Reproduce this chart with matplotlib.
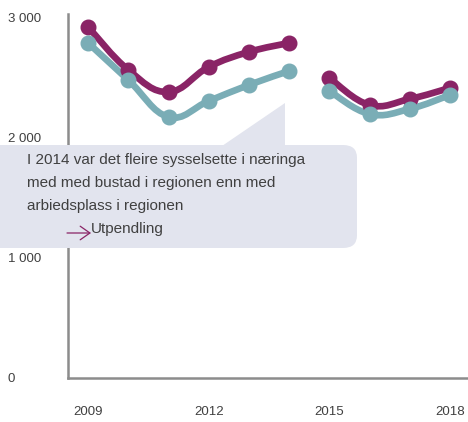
import numpy as np
import matplotlib.pyplot as plt
from matplotlib.path import Path
from matplotlib.patches import PathPatch, FancyBboxPatch, Polygon, FancyArrowPatch

plt.rcParams['font.family'] = ['Liberation Sans', 'DejaVu Sans']

years_a = [2009, 2010, 2011, 2012, 2013, 2014]
years_b = [2015, 2016, 2017, 2018]
bustad_a = [2925, 2567, 2383, 2592, 2717, 2792]
bustad_b = [2500, 2275, 2325, 2417]
arbeid_a = [2792, 2483, 2175, 2308, 2442, 2558]
arbeid_b = [2392, 2200, 2242, 2358]

yticks = [0, 1000, 2000, 3000]
ytick_labels = ['0', '1 000', '2 000', '3 000']
xticks = [2009, 2012, 2015, 2018]

PURPLE = '#8a2466'
TEAL = '#7aadb6'
GREY_TXT = '#404040'
BOX = '#e2e4ee'


def smooth_path(xs, ys, t=0.2):
    # catmull-rom style bezier through the points
    xs = np.asarray(xs, float)
    ys = np.asarray(ys, float)
    verts = [(xs[0], ys[0])]
    codes = [Path.MOVETO]
    n = len(xs)
    for i in range(n - 1):
        p0 = np.array([xs[max(i - 1, 0)], ys[max(i - 1, 0)]])
        p1 = np.array([xs[i], ys[i]])
        p2 = np.array([xs[i + 1], ys[i + 1]])
        p3 = np.array([xs[min(i + 2, n - 1)], ys[min(i + 2, n - 1)]])
        c1 = p1 + (p2 - p0) * t
        c2 = p2 - (p3 - p1) * t
        verts += [tuple(c1), tuple(c2), tuple(p2)]
        codes += [Path.CURVE4] * 3
    return Path(verts, codes)


fig = plt.figure(figsize=(4.68, 4.22), dpi=100)
ax = fig.add_axes([68 / 468, 44 / 422, 400 / 468, 364 / 422])
ax.set_xlim(2008.5, 2018.45)
ax.set_ylim(0, 3033)

for xs, ys, c in [(years_a, bustad_a, PURPLE), (years_b, bustad_b, PURPLE),
                  (years_a, arbeid_a, TEAL), (years_b, arbeid_b, TEAL)]:
    ax.add_patch(PathPatch(smooth_path(xs, ys), fill=False, edgecolor=c,
                           lw=4.8, capstyle='round', joinstyle='round', zorder=3))
    ax.plot(xs, ys, 'o', color=c, markersize=10.5, zorder=4)

for s in ['top', 'right']:
    ax.spines[s].set_visible(False)
for s in ['left', 'bottom']:
    ax.spines[s].set_color('#8c8c8c')
    ax.spines[s].set_linewidth(1.8)

ax.set_yticks(yticks)
ax.set_yticklabels(ytick_labels)
ax.set_xticks(xticks)
ax.tick_params(length=0, labelsize=9.5, colors=GREY_TXT)
ax.tick_params(axis='y', pad=0)
for lbl in ax.get_yticklabels():
    lbl.set_horizontalalignment('left')
    lbl.set_x(-60 / 400)
ax.tick_params(axis='x', pad=20)

# callout box
fig.patches.append(FancyBboxPatch((-20 / 468, (422 - 248) / 422), 377 / 468, 103 / 422,
                                  boxstyle='round,pad=0,rounding_size=0.03',
                                  transform=fig.transFigure, facecolor=BOX,
                                  edgecolor='none', zorder=10))
fig.patches.append(Polygon([(222 / 468, (422 - 146) / 422), (285 / 468, (422 - 103) / 422),
                            (285 / 468, (422 - 146) / 422)], closed=True,
                           transform=fig.transFigure, facecolor=BOX,
                           edgecolor='none', zorder=10))

lines = ['I 2014 var det fleire sysselsette i næringa',
         'med med bustad i regionen enn med',
         'arbiedsplass i regionen']
for i, line in enumerate(lines):
    fig.text(27 / 468, (422 - 160 - i * 23) / 422, line, fontsize=11,
             color=GREY_TXT, va='center', ha='left', zorder=11)
fig.text(91 / 468, (422 - 229) / 422, 'Utpendling', fontsize=11,
         color=GREY_TXT, va='center', ha='left', zorder=11)
fig.patches.append(FancyArrowPatch((67 / 468, (422 - 233) / 422), (91 / 468, (422 - 233) / 422),
                                   transform=fig.transFigure,
                                   arrowstyle='->,head_length=0.5,head_width=0.35',
                                   color=PURPLE, lw=0.9, mutation_scale=14,
                                   shrinkA=0, shrinkB=0, zorder=12))

fig.savefig('out.png', dpi=100)
